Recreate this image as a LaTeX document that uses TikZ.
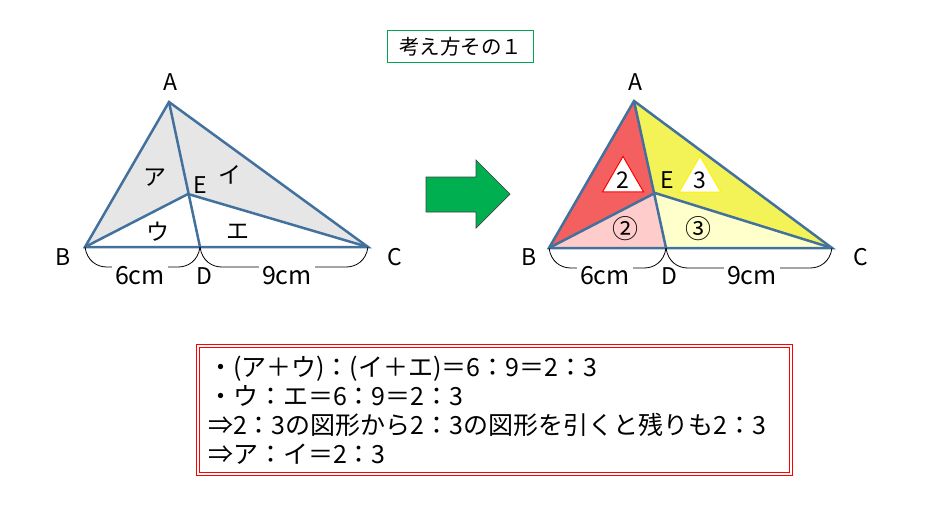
\documentclass[tikz,border=0pt]{standalone}
\usepackage{fontspec}
\setmainfont{Noto Sans CJK JP}
\usepackage{tikz}
\usetikzlibrary{calc}
\usetikzlibrary{shapes.geometric}
\definecolor{edgeblue}{RGB}{65,113,156}
\definecolor{areagray}{RGB}{231,230,230}
\definecolor{areared}{RGB}{244,96,96}
\definecolor{areapink}{RGB}{255,204,204}
\definecolor{areayellow}{RGB}{243,243,88}
\definecolor{arealight}{RGB}{255,255,204}
\definecolor{markgreen}{RGB}{0,176,80}
\definecolor{titlegreen}{RGB}{0,166,80}

\begin{document}
\begin{tikzpicture}[x=1pt,y=-1pt,
	edge/.style={draw=edgeblue,line width=2.5pt},
	brace/.style={draw=black,line width=0.8pt},
	lbl/.style={font=\fontsize{23}{26}\selectfont,inner sep=1pt},
	len/.style={font=\fontsize{25}{28}\selectfont,fill=white,inner sep=3pt},
	tri/.style={regular polygon,regular polygon sides=3,minimum size=46pt,inner sep=0pt,
		fill=white,line width=1pt,font=\fontsize{23}{26}\selectfont}
	]
		\useasboundingbox (0,0) rectangle (947,514);
		\node[draw=titlegreen,line width=1.6pt,minimum width=146pt,minimum height=32pt,
			font=\fontsize{20.5}{24}\selectfont] (title) at (460.5,46.5) {考え方その１};
		\coordinate (A1) at (169,102);
		\coordinate (B1) at (85,247);
		\coordinate (C1) at (368,247);
		\coordinate (D1) at (200,247);
		\coordinate (E1) at (188,194);
		\fill[areagray] (A1) -- (B1) -- (E1) -- cycle;
		\fill[areagray] (A1) -- (E1) -- (C1) -- cycle;
		\draw[edge] (A1) -- (B1) -- (C1) -- cycle;
		\draw[edge] (A1) -- (D1);
		\draw[edge] (B1) -- (E1) -- (C1);
		\draw[brace] (B1) .. controls +(2,14) and +(-10,0) .. ($(B1)+(22,20)$)
			-- ($(D1)+(-22,20)$) .. controls +(10,0) and +(-2,14) .. (D1);
		\draw[brace] (D1) .. controls +(2,14) and +(-10,0) .. ($(D1)+(22,20)$)
			-- ($(C1)+(-22,20)$) .. controls +(10,0) and +(-2,14) .. (C1);
		\node[lbl] (a1) at (170,82) {A};
		\node[lbl] (b1) at (63,257) {B};
		\node[lbl] (c1) at (395,257) {C};
		\node[lbl] (d1) at (204,276) {D};
		\node[lbl] (e1) at (200,185) {E};
		\node[lbl] (ka) at (155,178) {ア};
		\node[lbl] (ki) at (230,175) {イ};
		\node[lbl] (ku) at (158,232) {ウ};
		\node[lbl] (ke) at (238,232) {エ};
		\node[len] (bd1) at (140,276) {6cm};
		\node[len] (dc1) at (287,276) {9cm};
		\fill[markgreen] (426,177) -- (476,177) -- (476,160) -- (510,194) -- (476,228) -- (476,212) -- (426,212) -- cycle;
		\draw[black!75,line width=0.7pt] (426,177) -- (476,177) -- (476,160) -- (510,194) -- (476,228) -- (476,212) -- (426,212) -- cycle;
		\coordinate (A2) at (634,101);
		\coordinate (B2) at (549,248);
		\coordinate (C2) at (832,248);
		\coordinate (D2) at (666,248);
		\coordinate (E2) at (655,193);
		\fill[areared] (A2) -- (B2) -- (E2) -- cycle;
		\fill[areapink] (B2) -- (D2) -- (E2) -- cycle;
		\fill[areayellow] (A2) -- (E2) -- (C2) -- cycle;
		\fill[arealight] (E2) -- (D2) -- (C2) -- cycle;
		\draw[edge] (A2) -- (B2) -- (C2) -- cycle;
		\draw[edge] (A2) -- (D2);
		\draw[edge] (B2) -- (E2) -- (C2);
		\draw[brace] (B2) .. controls +(2,14) and +(-10,0) .. ($(B2)+(22,20)$)
			-- ($(D2)+(-22,20)$) .. controls +(10,0) and +(-2,14) .. (D2);
		\draw[brace] (D2) .. controls +(2,14) and +(-10,0) .. ($(D2)+(22,20)$)
			-- ($(C2)+(-22,20)$) .. controls +(10,0) and +(-2,14) .. (C2);
		\node[lbl] (a2) at (635,82) {A};
		\node[lbl] (b2) at (529,257) {B};
		\node[lbl] (c2) at (861,257) {C};
		\node[lbl] (d2) at (669,276) {D};
		\node[lbl] (e2) at (667,180) {E};
		\node[tri,draw=red] (two) at (623,180) {2};
		\node[tri,draw=yellow] (three) at (700,180) {3};
		\node[lbl,font=\fontsize{26}{28}\selectfont] (ctwo) at (625,229) {②};
		\node[lbl,font=\fontsize{26}{28}\selectfont] (cthree) at (698,229) {③};
		\node[len] (bd2) at (605,276) {6cm};
		\node[len] (dc2) at (752,276) {9cm};
		\node[draw=red,double=white,double distance=1.6pt,line width=1.4pt,
			minimum width=593pt,minimum height=128pt,text width=573pt,align=left,inner sep=0pt,
			font=\fontsize{25}{29}\selectfont] (note) at (494.5,410) {%
			・(ア＋ウ)：(イ＋エ)＝6：9＝2：3\\
			・ウ：エ＝6：9＝2：3\\
			⇒2：3の図形から2：3の図形を引くと残りも2：3\\
			⇒ア：イ＝2：3};
\end{tikzpicture}
\end{document}
